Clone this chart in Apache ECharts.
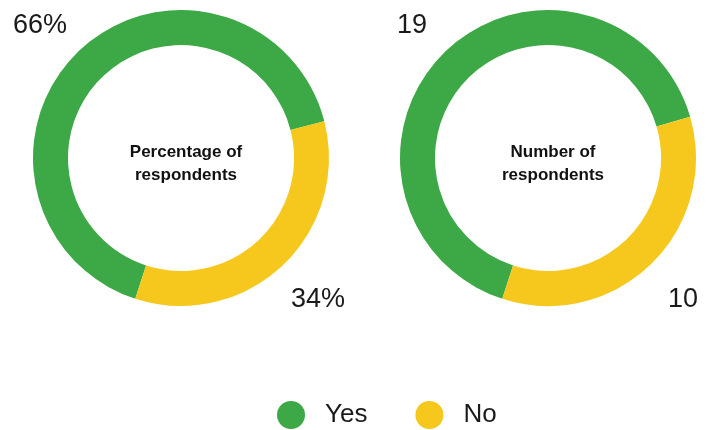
<!DOCTYPE html>
<html>
<head>
<meta charset="utf-8">
<script src="https://cdn.jsdelivr.net/npm/echarts@6/dist/echarts.min.js"></script>
<style>
  html, body { margin: 0; padding: 0; background: #fff; }
  #chart { width: 713px; height: 430px; }
</style>
</head>
<body>
<div id="chart"></div>
<script>
var categories = ['Yes', 'No'];
var percentValues = [66, 34];
var countValues = [19, 10];
var centerTitles = ['Percentage of\nrespondents', 'Number of\nrespondents'];
var colors = ['#3DA846', '#F6C81E'];

var font = 'Liberation Sans, Arial, Helvetica, sans-serif';

// label corners: [x, y, align, verticalAlign] per pie and slice
var labelSpots = [
    [[13, 12, 'left', 'top'], [345, 313, 'right', 'bottom']],
    [[397, 12, 'left', 'top'], [698, 313, 'right', 'bottom']]
];

function makePie(values, cx, suffix, idx) {
    return {
        type: 'pie',
        center: [cx, 158],
        radius: [113, 148],
        startAngle: 252,
        clockwise: true,
        silent: true,
        avoidLabelOverlap: false,
        itemStyle: {borderWidth: 0},
        label: {
            show: true,
            position: 'outside',
            formatter: '{c}' + suffix,
            fontSize: 27,
            fontFamily: font,
            color: '#1a1a1a'
        },
        labelLine: {show: false},
        labelLayout: function (p) {
            var s = labelSpots[idx][p.dataIndex];
            return {x: s[0], y: s[1], align: s[2], verticalAlign: s[3]};
        },
        data: categories.map(function (c, i) {
            return {name: c, value: values[i]};
        })
    };
}

var titleStyle = {fontSize: 17, fontWeight: 'bold', fontFamily: font, color: '#111', lineHeight: 23};

var myChart = echarts.init(document.getElementById('chart'), null, {renderer: 'canvas'});
myChart.setOption({
    color: colors,
    animation: false,
    title: [
        {text: centerTitles[0], left: 181, top: 136, textAlign: 'center', textStyle: titleStyle},
        {text: centerTitles[1], left: 548, top: 136, textAlign: 'center', textStyle: titleStyle}
    ],
    legend: {
        data: categories,
        top: 401,
        left: 277,
        padding: 0,
        icon: 'circle',
        itemWidth: 28,
        itemHeight: 28,
        itemGap: 48,
        textStyle: {fontSize: 26, fontFamily: font, color: '#1a1a1a', padding: [0, 0, 0, 15]}
    },
    series: [
        makePie(percentValues, 181, '%', 0),
        makePie(countValues, 548, '', 1)
    ]
});
</script>
</body>
</html>
